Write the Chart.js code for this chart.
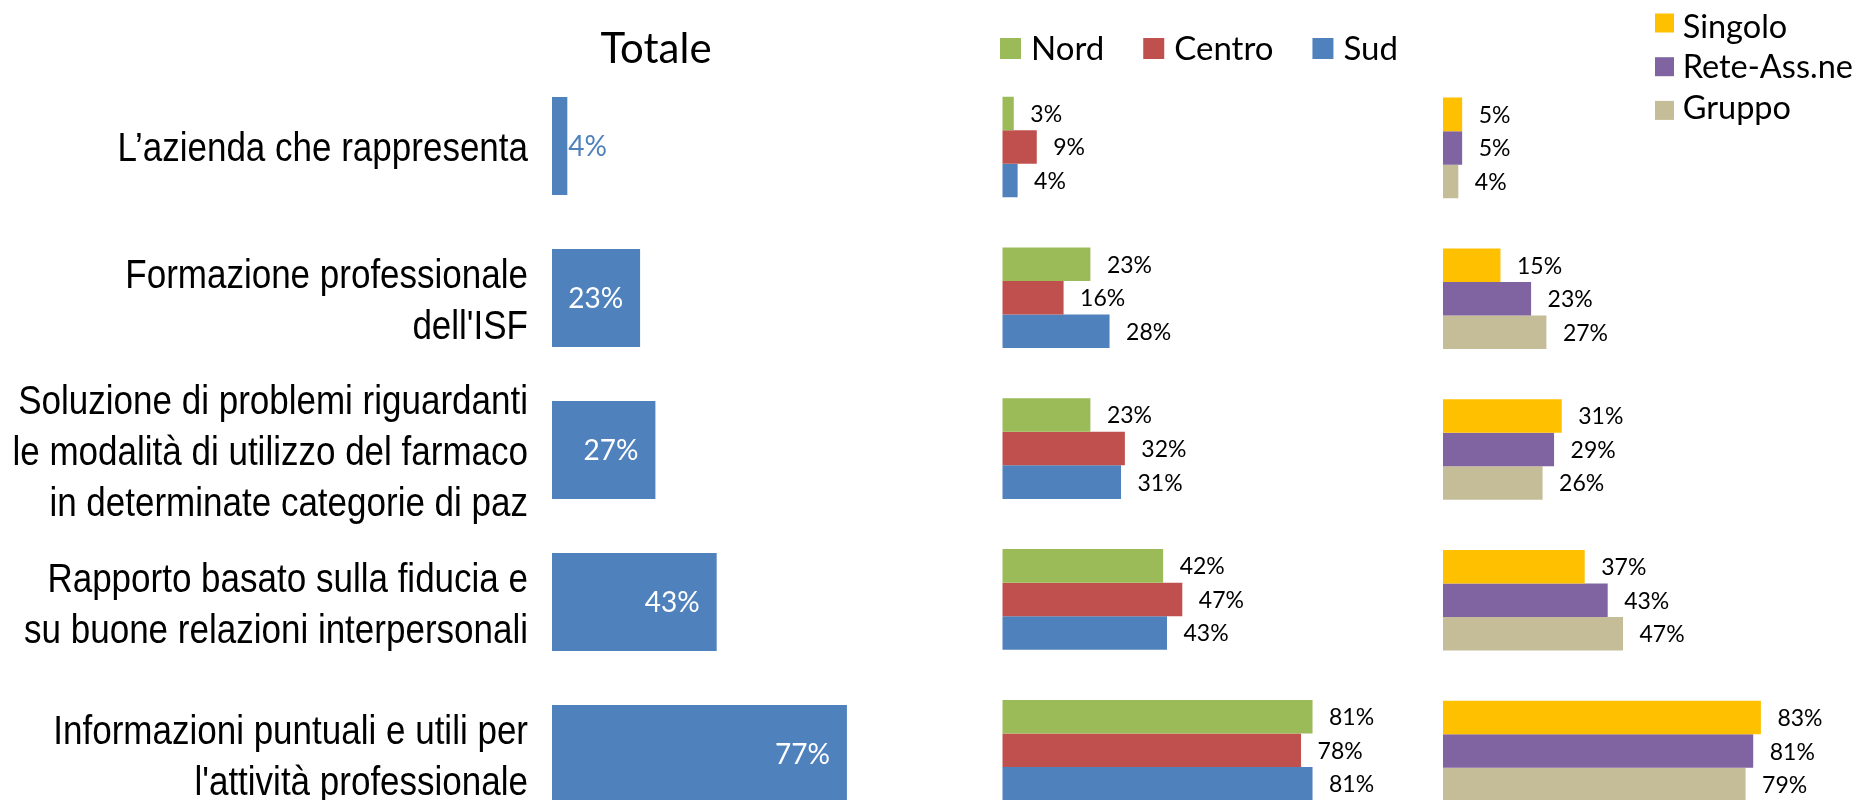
<!DOCTYPE html>
<html>
<head>
<meta charset="utf-8">
<script src="https://cdn.jsdelivr.net/npm/chart.js@4.4.1/dist/chart.umd.min.js"></script>
<style>
  html, body { margin: 0; padding: 0; background: #ffffff; overflow: hidden; width: 1865px; height: 800px; }
  canvas { position: absolute; top: 0; }
</style>
</head>
<body>
<canvas id="cTot" width="960" height="832" style="left:0px"></canvas>
<canvas id="cArea" width="460" height="832" style="left:960px"></canvas>
<canvas id="cType" width="445" height="832" style="left:1420px"></canvas>
<script>
// ---------------- DATA ----------------
const categories = [
  ['L\u2019azienda che rappresenta'],
  ['Formazione professionale', "dell'ISF"],
  ['Soluzione di problemi riguardanti', 'le modalità di utilizzo del farmaco', 'in determinate categorie di paz'],
  ['Rapporto basato sulla fiducia e', 'su buone relazioni interpersonali'],
  ['Informazioni puntuali e utili per', "l'attività professionale"]
];
const totaleTitle = 'Totale';
const totale  = [4, 23, 27, 43, 77];
const areaNames = ['Nord', 'Centro', 'Sud'];
const nord    = [3, 23, 23, 42, 81];
const centro  = [9, 16, 32, 47, 78];
const sud     = [4, 28, 31, 43, 81];
const typeNames = ['Singolo', 'Rete-Ass.ne', 'Gruppo'];
const singolo = [5, 15, 31, 37, 83];
const reteAss = [5, 23, 29, 43, 81];
const gruppo  = [4, 27, 26, 47, 79];
const xMin = 0, xMax = 100;

// ---------------- STYLE ----------------
const CAL = "Lato, 'Open Sans', sans-serif";
const ARIAL = "'Liberation Sans', Arial, sans-serif";
const BLUE = '#4F81BD', GREEN = '#9BBB59', RED = '#C0504D';
const GOLD = '#FFC000', PURPLE = '#8064A2', TAN = '#C4BD97';

// value labels
const pctLabels = {
  id: 'pctLabels',
  afterDatasetsDraw(chart, args, o) {
    const ctx = chart.ctx;
    ctx.save();
    ctx.font = o.size + 'px ' + o.family;
    ctx.textBaseline = 'middle';
    chart.data.datasets.forEach((ds, di) => {
      const meta = chart.getDatasetMeta(di);
      meta.data.forEach((bar, i) => {
        const txt = ds.data[i] + '%';
        const w = ctx.measureText(txt).width;
        const len = bar.x - bar.base;
        const y = bar.y + (o.dy || 0);
        if (o.inside) {
          if (w + o.pad + 4 <= len) {
            ctx.fillStyle = o.insideColor; ctx.textAlign = 'right';
            ctx.fillText(txt, bar.x - o.pad, y);
          } else {
            ctx.fillStyle = ds.backgroundColor; ctx.textAlign = 'left';
            ctx.fillText(txt, bar.x + 1, y);
          }
        } else {
          ctx.fillStyle = o.color; ctx.textAlign = 'left';
          ctx.fillText(txt, bar.x + o.offset, y);
        }
      });
    });
    ctx.restore();
  }
};

// narrow category labels, positioned by the y scale
const narrowTicks = {
  id: 'narrowTicks',
  afterDraw(chart, args, o) {
    if (!o || !o.show) return;
    const ctx = chart.ctx;
    const ys = chart.scales.y;
    ctx.save();
    ctx.font = o.size + 'px ' + o.family;
    ctx.fillStyle = o.color;
    ctx.textAlign = 'right';
    ctx.textBaseline = 'alphabetic';
    chart.data.labels.forEach((lab, i) => {
      const lines = Array.isArray(lab) ? lab : [lab];
      const cy = ys.getPixelForValue(i);
      lines.forEach((ln, k) => {
        const by = cy + o.base + (k - (lines.length - 1) / 2) * o.lineHeight;
        ctx.save();
        ctx.translate(o.right, by);
        ctx.scale(o.sx, 1);
        ctx.fillText(ln, 0, 0);
        ctx.restore();
      });
    });
    ctx.restore();
  }
};

// legend with square markers
const boxLegend = {
  id: 'boxLegend',
  afterDraw(chart, args, o) {
    if (!o || !o.show) return;
    const ctx = chart.ctx;
    ctx.save();
    ctx.font = o.size + 'px ' + o.family;
    ctx.textBaseline = 'alphabetic';
    ctx.textAlign = 'left';
    let x = o.x, y = o.y, ty = o.textY;
    chart.data.datasets.forEach(ds => {
      ctx.fillStyle = ds.backgroundColor;
      ctx.fillRect(x, y - o.box / 2, o.box, o.box);
      ctx.fillStyle = o.color;
      ctx.fillText(ds.label, x + o.box + o.gap, ty);
      if (o.vertical) { y += o.step; ty += o.textStep; }
      else x += o.box + o.gap + ctx.measureText(ds.label).width + o.step;
    });
    ctx.restore();
  }
};

// free title
const freeTitle = {
  id: 'freeTitle',
  afterDraw(chart, args, o) {
    if (!o || !o.text) return;
    const ctx = chart.ctx;
    ctx.save();
    ctx.font = o.size + 'px ' + o.family;
    ctx.fillStyle = o.color;
    ctx.textAlign = 'center';
    ctx.textBaseline = 'alphabetic';
    ctx.fillText(o.text, o.x, o.y);
    ctx.restore();
  }
};

function baseOptions(padding, yWidth) {
  return {
    indexAxis: 'y',
    responsive: false,
    animation: false,
    devicePixelRatio: 1,
    layout: { padding: padding },
    scales: {
      x: { type: 'linear', display: false, min: xMin, max: xMax },
      y: {
        type: 'category',
        display: yWidth > 0,
        grid: { display: false, drawTicks: false, drawOnChartArea: false },
        border: { display: false },
        ticks: { display: false, autoSkip: false },
        afterFit: yWidth > 0 ? (s) => { s.width = yWidth; s.paddingTop = 0; s.paddingBottom = 0; } : undefined
      }
    },
    plugins: { legend: { display: false }, tooltip: { enabled: false }, title: { display: false } }
  };
}

// ---------------- CHART 1: Totale ----------------
const opt1 = baseOptions({ left: 0, right: 25, top: 70, bottom: 2 }, 552);
opt1.plugins.pctLabels = { inside: true, pad: 17, insideColor: '#ffffff', size: 28, family: CAL, dy: 1 };
opt1.plugins.freeTitle = { text: totaleTitle, x: 656, y: 62.5, size: 42, family: CAL, color: '#000000' };
opt1.plugins.narrowTicks = { show: true, right: 528, sx: 0.875, size: 40, family: ARIAL, color: '#000000', lineHeight: 51, base: 15 };
new Chart(document.getElementById('cTot'), {
  type: 'bar',
  data: {
    labels: categories,
    datasets: [{ label: totaleTitle, data: totale, backgroundColor: BLUE, borderWidth: 0,
                 categoryPercentage: 0.646, barPercentage: 1.0 }]
  },
  options: opt1,
  plugins: [pctLabels, freeTitle, narrowTicks]
});

// ---------------- CHART 2: Nord / Centro / Sud ----------------
const opt2 = baseOptions({ left: 42.3, right: 460 - 42.3 - 383, top: 71.6, bottom: 6.4 }, 0);
opt2.plugins.pctLabels = { inside: false, offset: 16.5, color: '#000000', size: 23, family: CAL, dy: 1 };
opt2.plugins.boxLegend = { show: true, x: 40, y: 48.5, textY: 59.5, box: 21, gap: 10, step: 39, size: 33, family: CAL, color: '#000000', vertical: false };
new Chart(document.getElementById('cArea'), {
  type: 'bar',
  data: {
    labels: categories,
    datasets: [
      { label: areaNames[0], data: nord,   backgroundColor: GREEN, borderWidth: 0, categoryPercentage: 0.667, barPercentage: 1.0 },
      { label: areaNames[1], data: centro, backgroundColor: RED,   borderWidth: 0, categoryPercentage: 0.667, barPercentage: 1.0 },
      { label: areaNames[2], data: sud,    backgroundColor: BLUE,  borderWidth: 0, categoryPercentage: 0.667, barPercentage: 1.0 }
    ]
  },
  options: opt2,
  plugins: [pctLabels, boxLegend]
});

// ---------------- CHART 3: Singolo / Rete-Ass.ne / Gruppo ----------------
const opt3 = baseOptions({ left: 23, right: 445 - 23 - 383, top: 72.5, bottom: 5.5 }, 0);
opt3.plugins.pctLabels = { inside: false, offset: 16.5, color: '#000000', size: 23, family: CAL, dy: 1 };
opt3.plugins.boxLegend = { show: true, x: 235, y: 23, textY: 37.5, box: 19, gap: 8.7, step: 43.7, textStep: 40.7, size: 32.5, family: CAL, color: '#000000', vertical: true };
new Chart(document.getElementById('cType'), {
  type: 'bar',
  data: {
    labels: categories,
    datasets: [
      { label: typeNames[0], data: singolo, backgroundColor: GOLD,   borderWidth: 0, categoryPercentage: 0.667, barPercentage: 1.0 },
      { label: typeNames[1], data: reteAss, backgroundColor: PURPLE, borderWidth: 0, categoryPercentage: 0.667, barPercentage: 1.0 },
      { label: typeNames[2], data: gruppo,  backgroundColor: TAN,    borderWidth: 0, categoryPercentage: 0.667, barPercentage: 1.0 }
    ]
  },
  options: opt3,
  plugins: [pctLabels, boxLegend]
});
</script>
</body>
</html>
